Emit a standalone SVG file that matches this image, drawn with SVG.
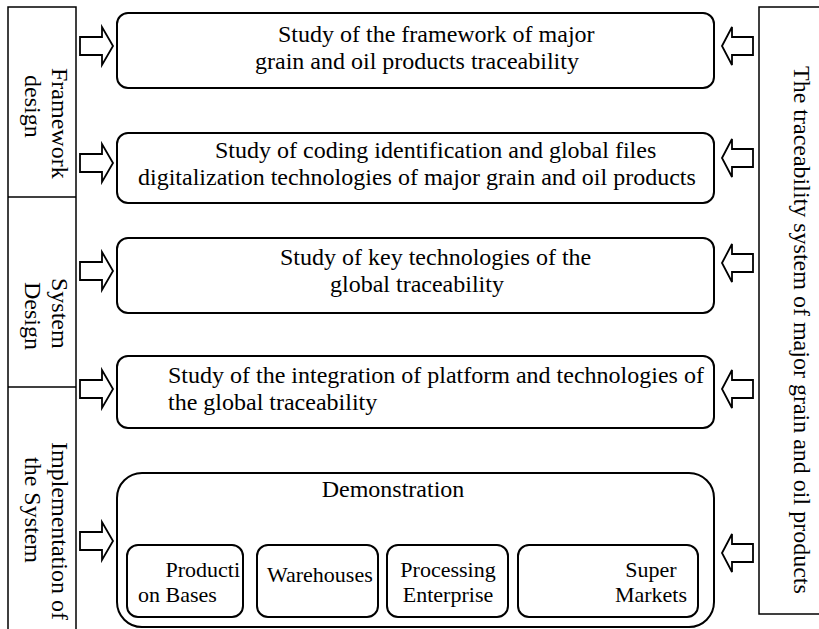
<svg xmlns="http://www.w3.org/2000/svg" width="819" height="629" viewBox="0 0 819 629">
<style>
text{font-family:"Liberation Serif","Times New Roman",serif;font-size:24px;fill:#000}
.sub{font-size:22px}
.box{fill:#fff;stroke:#000;stroke-width:2}
.col{fill:#fff;stroke:#000;stroke-width:1.5}
.arr{fill:#fff;stroke:#000;stroke-width:1.8;stroke-linejoin:miter}
</style>
<defs>
<path id="rarr" d="M0,-9 H22 V-19 L33,0 L22,19 V9 H0 Z"/>
<path id="larr" d="M0,0 L10,-19 V-9 H31 V9 H10 V19 Z"/>
</defs>
<rect width="819" height="629" fill="#fff"/>
<g id="side-left">
<rect class="col" x="8" y="7" width="68" height="640"/>
<line x1="8" y1="197" x2="76" y2="197" stroke="#000" stroke-width="1.5"/>
<line x1="8" y1="387" x2="76" y2="387" stroke="#000" stroke-width="1.5"/>
</g>
<g id="label-framework">
<text transform="translate(52,68) rotate(90)">Framework</text>
<text transform="translate(25,75) rotate(90)">design</text>
</g>
<g id="label-system">
<text transform="translate(52,278) rotate(90)">System</text>
<text transform="translate(25,282) rotate(90)">Design</text>
</g>
<g id="label-implementation">
<text transform="translate(52,442) rotate(90)">Implementation of</text>
<text transform="translate(25,457) rotate(90)">the System</text>
</g>
<g id="side-right">
<rect class="col" x="759" y="7" width="70" height="607"/>
<text transform="translate(794,66) rotate(90)">The traceability system of major grain and oil products</text>
</g>
<g id="box1">
<rect class="box" x="117" y="13" width="597" height="75" rx="11"/>
<text x="278" y="42">Study of the framework of major</text>
<text x="255" y="69">grain and oil products traceability</text>
</g>
<g id="box2">
<rect class="box" x="117" y="133" width="597" height="70" rx="11"/>
<text x="215" y="158">Study of coding identification and global files</text>
<text x="138" y="185">digitalization technologies of major grain and oil products</text>
</g>
<g id="box3">
<rect class="box" x="117" y="238" width="597" height="75" rx="11"/>
<text x="280" y="265">Study of key technologies of the</text>
<text x="330" y="292">global traceability</text>
</g>
<g id="box4">
<rect class="box" x="117" y="356" width="597" height="72" rx="11"/>
<text x="168" y="383">Study of the integration of platform and technologies of</text>
<text x="168" y="410">the global traceability</text>
</g>
<g id="box5">
<rect class="box" x="117" y="473" width="597" height="154" rx="25"/>
<text x="393" y="497" text-anchor="middle">Demonstration</text>
</g>
<g id="sub1">
<rect class="box" x="127" y="545" width="116" height="72" rx="11"/>
<text class="sub" x="240" y="577" text-anchor="end">Producti</text>
<text class="sub" x="138" y="602">on Bases</text>
</g>
<g id="sub2">
<rect class="box" x="257" y="545" width="121" height="72" rx="11"/>
<text class="sub" x="267" y="582">Warehouses</text>
</g>
<g id="sub3">
<rect class="box" x="387" y="545" width="121" height="72" rx="11"/>
<text class="sub" x="448" y="577" text-anchor="middle">Processing</text>
<text class="sub" x="448" y="602" text-anchor="middle">Enterprise</text>
</g>
<g id="sub4">
<rect class="box" x="518" y="545" width="180" height="72" rx="11"/>
<text class="sub" x="651" y="577" text-anchor="middle">Super</text>
<text class="sub" x="651" y="602" text-anchor="middle">Markets</text>
</g>
<g id="connectors">
<use href="#rarr" class="arr" transform="translate(80,46)"/>
<use href="#rarr" class="arr" transform="translate(80,163)"/>
<use href="#rarr" class="arr" transform="translate(80,271)"/>
<use href="#rarr" class="arr" transform="translate(80,389)"/>
<use href="#rarr" class="arr" transform="translate(80,541)"/>
<use href="#larr" class="arr" transform="translate(722,46)"/>
<use href="#larr" class="arr" transform="translate(722,158)"/>
<use href="#larr" class="arr" transform="translate(722,263)"/>
<use href="#larr" class="arr" transform="translate(722,389)"/>
<use href="#larr" class="arr" transform="translate(722,553)"/>
</g>
</svg>
